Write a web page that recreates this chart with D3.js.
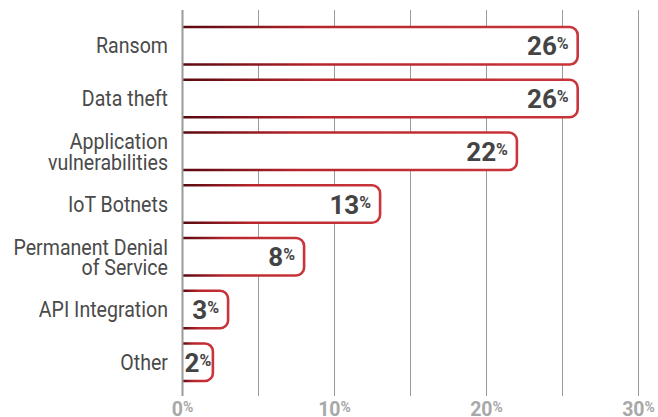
<!DOCTYPE html>
<html>
<head>
<meta charset="utf-8">
<script src="https://cdn.jsdelivr.net/npm/d3@7"></script>
<style>
  html, body { margin: 0; padding: 0; background: #fff; }
  svg { display: block; font-family: Roboto, "Noto Sans", sans-serif; }
</style>
</head>
<body>
<svg id="chart" width="658" height="417"></svg>
<script>
// Share of attack types
const categories = [
  ["Ransom"],
  ["Data theft"],
  ["Application", "vulnerabilities"],
  ["IoT Botnets"],
  ["Permanent Denial", "of Service"],
  ["API Integration"],
  ["Other"]
];
const values = [26, 26, 22, 13, 8, 3, 2];
const tickValues = [0, 10, 20, 30];
const gridValues = [5, 10, 15, 20, 25, 30];

const svg = d3.select("#chart");
const plotTop = 10, plotBottom = 396;

const x = d3.scaleLinear().domain([0, 30]).range([182.5, 638.5]);
const y = d3.scaleBand()
  .domain(d3.range(categories.length))
  .range([27, 381])
  .paddingInner(0.288)
  .paddingOuter(0);

// gradient for bar outlines
const defs = svg.append("defs");
const grad = defs.append("linearGradient").attr("id", "barStroke")
  .attr("x1", "0").attr("x2", "1").attr("y1", "0").attr("y2", "0");
grad.append("stop").attr("offset", "0").attr("stop-color", "#5a0810");
grad.append("stop").attr("offset", "0.35").attr("stop-color", "#b8252c");
grad.append("stop").attr("offset", "1").attr("stop-color", "#c9353b");

// vertical grid lines
svg.append("g").selectAll("line").data(gridValues).join("line")
  .attr("x1", d => x(d)).attr("x2", d => x(d))
  .attr("y1", plotTop).attr("y2", plotBottom)
  .attr("stroke", "#9a9a9a").attr("stroke-width", 1);

// bars: white fill, open left side, rounded right corners
const r = 8;
const barPath = (v, i) => {
  const x0 = x(0), x1 = x(v), y0 = y(i), y1 = y(i) + y.bandwidth();
  const rr = Math.min(r, (x1 - x0));
  return `M${x0},${y0}H${x1 - rr}A${rr},${rr} 0 0 1 ${x1},${y0 + rr}V${y1 - rr}A${rr},${rr} 0 0 1 ${x1 - rr},${y1}H${x0}`;
};
const bars = svg.append("g").selectAll("g").data(values).join("g");
bars.append("path")
  .attr("d", (d, i) => barPath(d, i) + "Z")
  .attr("fill", "#fff");
bars.append("path")
  .attr("d", (d, i) => barPath(d, i))
  .attr("fill", "none")
  .attr("stroke", "url(#barStroke)")
  .attr("stroke-width", 2.6);

// value labels, kept clear of the zero line on short bars
const vl = bars.append("text")
  .attr("y", (d, i) => y(i) + y.bandwidth() / 2 + 9.5)
  .attr("text-anchor", "end")
  .attr("fill", "#444")
  .attr("font-weight", 700);
vl.append("tspan").attr("font-size", 26).text(d => d);
vl.append("tspan").attr("font-size", 16).attr("dy", -6).text("%");
vl.attr("x", function(d) {
  const w = this.getComputedTextLength();
  return Math.max(x(d) - 9, x(0) + 2 + w);
});

// axis line at zero
svg.append("line")
  .attr("x1", x(0)).attr("x2", x(0))
  .attr("y1", plotTop).attr("y2", plotBottom)
  .attr("stroke", "#9a9a9a").attr("stroke-width", 2);

// category labels (narrowed Roboto)
const labelX = 168, sx = 0.89;
const lg = svg.append("g").selectAll("g").data(categories).join("g")
  .attr("transform", (d, i) => {
    const c = y(i) + y.bandwidth() / 2;
    const base = d.length === 1 ? c + 7.6 : c - 2.2;
    return `translate(${labelX},${base}) scale(${sx},1)`;
  });
lg.selectAll("text").data(d => d).join("text")
  .attr("x", 0)
  .attr("y", (d, j) => j * 20.8)
  .attr("text-anchor", "end")
  .attr("fill", "#4a4a4a")
  .attr("font-size", 22)
  .text(d => d);

// x tick labels
const tl = svg.append("g").selectAll("text").data(tickValues).join("text")
  .attr("x", d => x(d))
  .attr("y", 415.5)
  .attr("text-anchor", "middle")
  .attr("fill", "#a8a8a8")
  .attr("font-weight", 700);
tl.append("tspan").attr("font-size", 19.5).text(d => d);
tl.append("tspan").attr("font-size", 14).attr("dy", -3.5).text("%");
</script>
</body>
</html>
